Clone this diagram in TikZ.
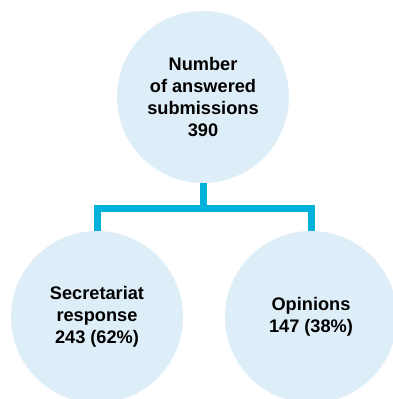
\documentclass[tikz,border=0pt]{standalone}
\usepackage{fontspec}
\setmainfont{Liberation Sans}
\definecolor{bubblefill}{HTML}{DEEEF8}
\definecolor{linkblue}{HTML}{00B2DA}
\begin{document}
\begin{tikzpicture}[x=1pt,y=-1pt,line join=miter]
	\tikzset{bubble/.style={circle,fill=bubblefill,minimum size=172pt,inner sep=0pt,align=center,font=\bfseries\fontsize{18.2}{22}\selectfont},
	link/.style={draw=linkblue,line width=7pt}}
	\useasboundingbox (0,0) rectangle (393,399);
	\node[bubble] (total) at (203,97) {Number\\of answered\\submissions\\390};
	\node[bubble] (secr) at (97,317) {Secretariat\\response\\243 (62\%)};
	\node[bubble] (opin) at (311,317) {Opinions\\147 (38\%)};
	\coordinate (fork) at (203,208);
	\draw[link] (total) -- (fork);
	\draw[link] (secr) |- (fork) -| (opin);
\end{tikzpicture}
\end{document}
